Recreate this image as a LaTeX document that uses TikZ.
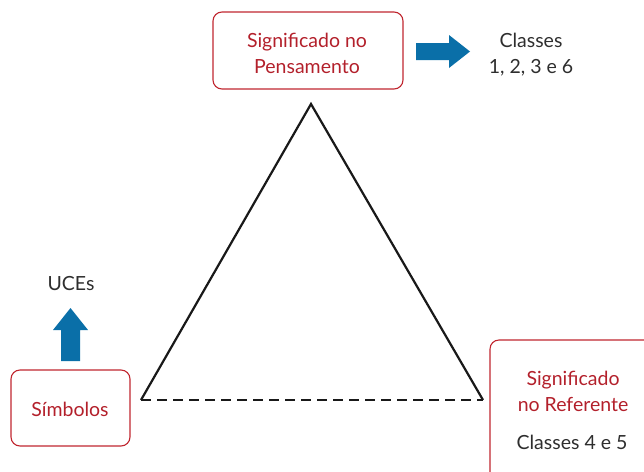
\documentclass[tikz,border=0pt]{standalone}
\usepackage{fontspec}
\setmainfont{Lato}
\usetikzlibrary{shapes.arrows}
\definecolor{boxred}{HTML}{C0262F}
\definecolor{txtred}{HTML}{B3202B}
\definecolor{arrowblue}{HTML}{0A6FA8}
\definecolor{txtgray}{HTML}{2E2E2E}
\tikzset{
  rbox/.style={draw=boxred, line width=1.1pt, rounded corners=9pt},
  redtxt/.style={text=txtred, font=\fontsize{19.5}{26}\selectfont, align=center},
  graytxt/.style={text=txtgray, font=\fontsize{19.5}{26}\selectfont, align=center},
  tri/.style={line width=2.2pt, black!90},
  bluearrow/.style={fill=arrowblue, draw=none}
}
\begin{document}
\begin{tikzpicture}[x=1pt,y=-1pt]
\useasboundingbox (0,0) rectangle (644,471);
% boxes
\draw[rbox] (213,12) rectangle (403,89);
\node[redtxt] (pens) at (307,53) {Significado no\\Pensamento};
\draw[rbox] (11,370) rectangle (130,446);
\node[redtxt] (simb) at (70,409) {Símbolos};
\draw[rbox] (490,340) rectangle (665,495);
\node[redtxt] (ref) at (573,391) {Significado\\no Referente};
\node[graytxt] (cl45) at (572,442) {Classes 4 e 5};
% triangle
\coordinate (A) at (311,104);
\coordinate (L) at (141,400);
\coordinate (R) at (483,400);
\draw[tri, line join=miter] (L) -- (A) -- (R);
\draw[tri, dash pattern=on 10pt off 6pt] (L) -- (R);
% right arrow
\fill[bluearrow] (416,43) -- (449,43) -- (449,35) -- (470,51.5) -- (449,68) -- (449,60) -- (416,60) -- cycle;
\node[graytxt] (cl) at (531,55) {Classes\\1, 2, 3 e 6};
% up arrow
\fill[bluearrow] (61,361) -- (61,330) -- (53,330) -- (70.5,308) -- (88,330) -- (80,330) -- (80,361) -- cycle;
\node[graytxt] (uce) at (71,284) {UCEs};
\end{tikzpicture}
\end{document}
